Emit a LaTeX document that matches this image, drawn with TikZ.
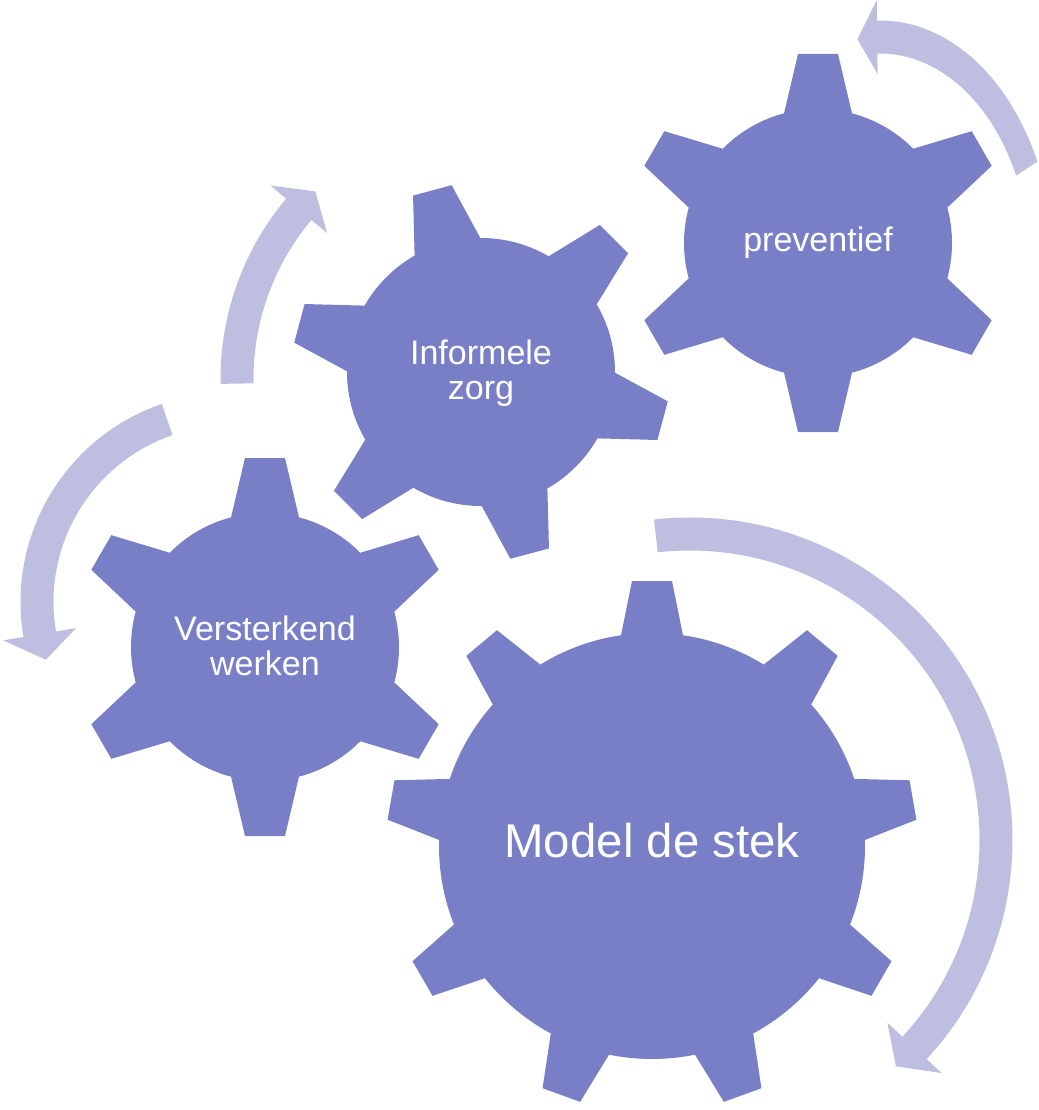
\documentclass[tikz,border=0pt]{standalone}
\usepackage{fontspec}
\setmainfont{Liberation Sans}
\usetikzlibrary{positioning}
\definecolor{gearblue}{RGB}{121,127,199}
\definecolor{arrowlilac}{RGB}{190,191,224}
\tikzset{gearfill/.style={fill=gearblue},
  arrowfill/.style={fill=arrowlilac},
  geartext/.style={text=white, align=center, inner sep=0pt, font=\fontsize{24.2}{25}\selectfont},
  bigtext/.style={text=white, inner sep=0pt, font=\fontsize{33.7}{36}\selectfont}}

% centre x, centre y, teeth, first angle, body r, root r, tip r, root half width, tip half width
\newcommand{\gear}[9]{%
  \fill[gearfill] (#1,#2) circle[radius=#5];
  \foreach \k in {1,...,#3}
    \fill[gearfill, shift={(#1,#2)}, rotate={#4+360/#3*(\k-1)}]
      (#6,-#8) -- (#7,-#9) -- (#7,#9) -- (#6,#8) -- cycle;}

% centre x, centre y, radius, start angle, end angle, tip angle
\newcommand{\bendarrow}[6]{%
  \fill[arrowfill, shift={(#1,#2)}]
    ({#4}:{#3+16.5}) arc[start angle=#4, end angle=#5, radius=#3+16.5]
    -- ({#5}:{#3+37}) -- ({#6}:{#3}) -- ({#5}:{#3-37}) -- ({#5}:{#3-16.5})
    arc[start angle=#5, end angle=#4, radius=#3-16.5] -- cycle;}

\begin{document}
\begin{tikzpicture}[x=0.025cm, y=0.025cm]
	\useasboundingbox (0,0) rectangle (1038,-1110);
	% arrows
	\begin{scope}[shift={(880,-265)}, xscale=0.71]
		\bendarrow{0}{0}{228}{25}{91}{98}
	\end{scope}
	\bendarrow{501}{-379}{264}{181}{140}{134.7}
	\bendarrow{230}{-602}{193}{109}{189.6}{197.4}
	\bendarrow{690}{-840}{306}{96.4}{-42.8}{-47.7}
	% gears
	\gear{818}{-243}{6}{90}{134}{129.6}{189}{34}{20}
	\gear{481}{-372}{6}{105}{134}{129.6}{188}{34}{20}
	\gear{265}{-647}{6}{90}{134}{129.6}{189}{34}{20}
	\gear{652}{-846}{9}{90}{213}{210.7}{265}{31}{20}
	\node[geartext] (prev) at (818,-243) {preventief};
	\node[geartext] (zorg) at (481,-373) {Informele\\zorg};
	\node[geartext] (verst) at (265,-646) {Versterkend\\werken};
	\node[bigtext] (stek) at (652,-841) {Model de stek};
\end{tikzpicture}
\end{document}
